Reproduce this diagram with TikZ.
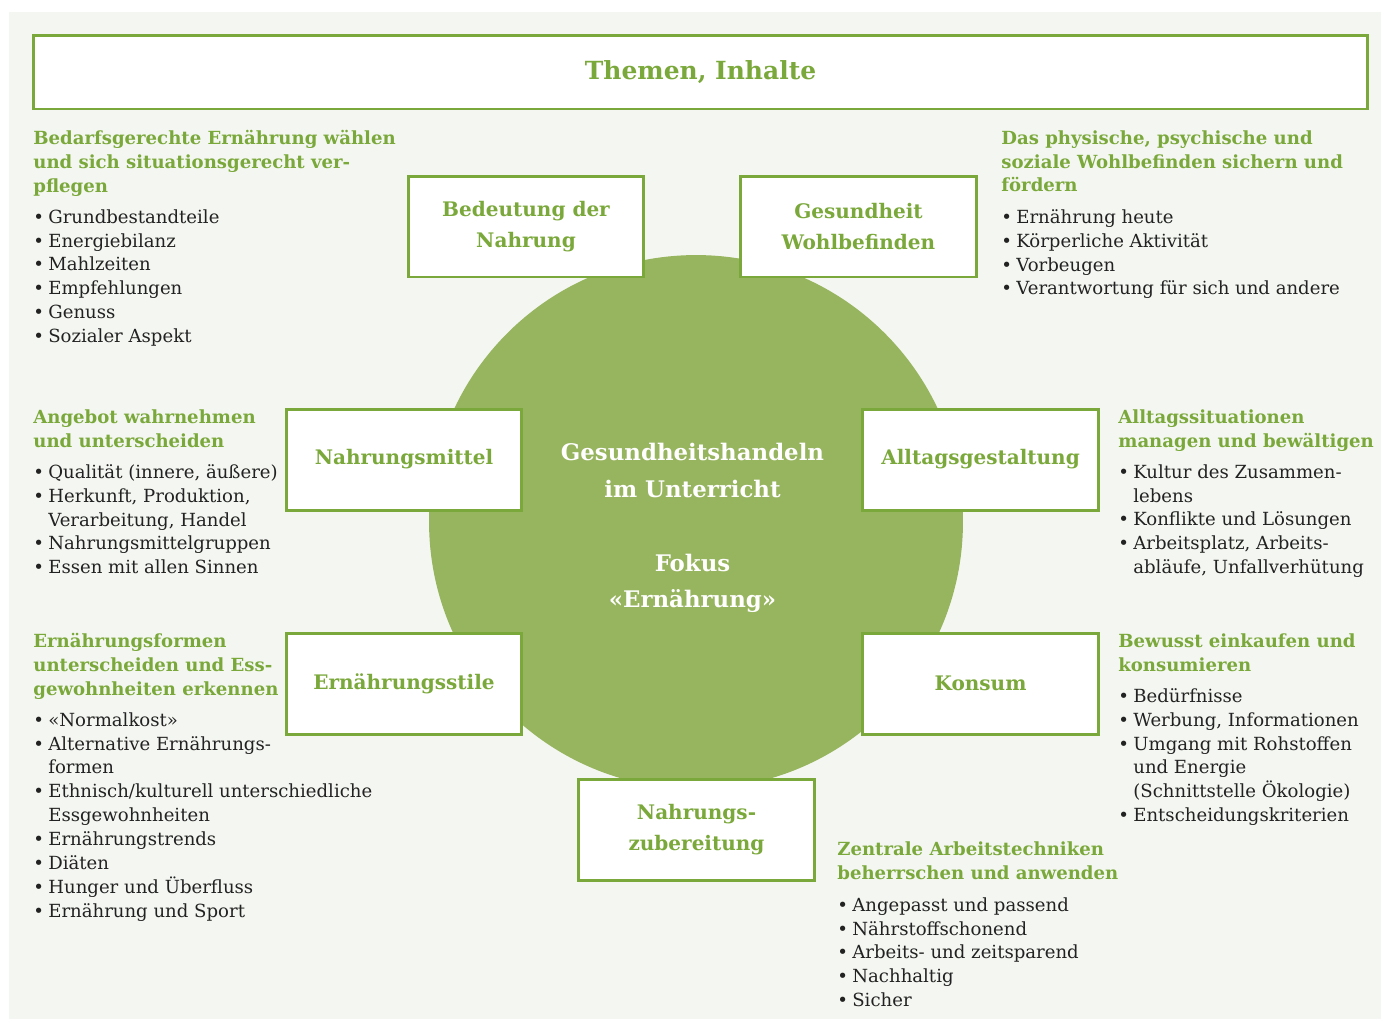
\documentclass[tikz,border=0pt]{standalone}
\usepackage{fontspec}
\setmainfont{DejaVu Serif}

\definecolor{leaf}{RGB}{122,168,58}
\definecolor{disc}{RGB}{151,180,94}
\definecolor{paper}{RGB}{244,247,241}
\definecolor{ink}{RGB}{34,34,34}

% bullet line and indented continuation line
\newcommand{\punkt}[1]{\makebox[0.3cm][l]{\textbullet}#1}
\newcommand{\weiter}[1]{\hspace*{0.3cm}#1}

\begin{document}
\begin{tikzpicture}[x=0.02cm, y=-0.02cm,
    thema/.style={draw=leaf, line width=1.7pt, fill=white,
      minimum width=4.72cm, minimum height=2.02cm, align=center,
      text=leaf, font=\bfseries\fontsize{11.4}{18}\selectfont},
    kopf/.style={anchor=north west, inner sep=0pt, align=left,
      text=leaf, font=\bfseries\fontsize{10.3}{13.6}\selectfont},
    liste/.style={anchor=north west, inner sep=0pt, align=left,
      text=ink, font=\fontsize{10.3}{13.6}\selectfont}]

        \useasboundingbox (0,0) rectangle (1381,1019);
        \fill[white] (0,0) rectangle (1381,1019);
        \fill[paper] (9,12) rectangle (1381,1019);

        % Title bar
        \node[draw=leaf, line width=1.7pt, fill=white, minimum width=26.7cm,
          minimum height=1.48cm, text=leaf,
          font=\bfseries\fontsize{14.2}{17}\selectfont] (titel) at (700.5,72) {Themen, Inhalte};

        % Central disc and its text
        \node[circle, fill=disc, minimum size=10.68cm] (mitte) at (696,522) {};
        \node[align=center, text=white, font=\bfseries\fontsize{13}{21}\selectfont]
          (fokus) at (692.5,528) {Gesundheitshandeln\\ im Unterricht\\[21pt] Fokus\\ «Ernährung»};

        % Topic boxes around the disc
        \node[thema] (bedeutung) at (526,226.5) {Bedeutung der\\ Nahrung};
        \node[thema] (gesundheit) at (858.5,226.5) {Gesundheit\\ Wohlbefinden};
        \node[thema] (mittel) at (404,459.5) {Nahrungsmittel};
        \node[thema] (alltag) at (980.5,459.5) {Alltagsgestaltung};
        \node[thema] (stile) at (404,683.5) {Ernährungsstile};
        \node[thema] (konsum) at (980.5,683.5) {Konsum};
        \node[thema] (zubereitung) at (696.5,829.5) {Nahrungs-\\ zubereitung};

        % Top left
        \node[kopf] (kopfA) at (33,130) {Bedarfsgerechte Ernährung wählen\\
          und sich situationsgerecht ver-\\ pflegen};
        \node[liste] (listeA) at (33,209) {\punkt{Grundbestandteile}\\ \punkt{Energiebilanz}\\
          \punkt{Mahlzeiten}\\ \punkt{Empfehlungen}\\ \punkt{Genuss}\\ \punkt{Sozialer Aspekt}};

        % Top right
        \node[kopf] (kopfB) at (1001,130) {Das physische, psychische und\\
          soziale Wohlbefinden sichern und\\ fördern};
        \node[liste] (listeB) at (1001,209) {\punkt{Ernährung heute}\\ \punkt{Körperliche Aktivität}\\
          \punkt{Vorbeugen}\\ \punkt{Verantwortung für sich und andere}};

        % Middle left
        \node[kopf] (kopfC) at (33,409) {Angebot wahrnehmen\\ und unterscheiden};
        \node[liste] (listeC) at (33,464) {\punkt{Qualität (innere, äußere)}\\
          \punkt{Herkunft, Produktion,}\\ \weiter{Verarbeitung, Handel}\\
          \punkt{Nahrungsmittelgruppen}\\ \punkt{Essen mit allen Sinnen}};

        % Middle right
        \node[kopf] (kopfD) at (1118,409) {Alltagssituationen\\ managen und bewältigen};
        \node[liste] (listeD) at (1118,464) {\punkt{Kultur des Zusammen-}\\ \weiter{lebens}\\
          \punkt{Konflikte und Lösungen}\\ \punkt{Arbeitsplatz, Arbeits-}\\
          \weiter{abläufe, Unfallverhütung}};

        % Lower left
        \node[kopf] (kopfE) at (33,633) {Ernährungsformen\\ unterscheiden und Ess-\\
          gewohnheiten erkennen};
        \node[liste] (listeE) at (33,712) {\punkt{«Normalkost»}\\
          \punkt{Alternative Ernährungs-}\\ \weiter{formen}\\
          \punkt{Ethnisch/kulturell unterschiedliche}\\ \weiter{Essgewohnheiten}\\
          \punkt{Ernährungstrends}\\ \punkt{Diäten}\\ \punkt{Hunger und Überfluss}\\
          \punkt{Ernährung und Sport}};

        % Lower right
        \node[kopf] (kopfF) at (1118,633) {Bewusst einkaufen und\\ konsumieren};
        \node[liste] (listeF) at (1118,688) {\punkt{Bedürfnisse}\\ \punkt{Werbung, Informationen}\\
          \punkt{Umgang mit Rohstoffen}\\ \weiter{und Energie}\\
          \weiter{(Schnittstelle Ökologie)}\\ \punkt{Entscheidungskriterien}};

        % Bottom
        \node[kopf] (kopfG) at (837,841) {Zentrale Arbeitstechniken\\ beherrschen und anwenden};
        \node[liste] (listeG) at (837,897) {\punkt{Angepasst und passend}\\ \punkt{Nährstoffschonend}\\
          \punkt{Arbeits- und zeitsparend}\\ \punkt{Nachhaltig}\\ \punkt{Sicher}};
\end{tikzpicture}
\end{document}
